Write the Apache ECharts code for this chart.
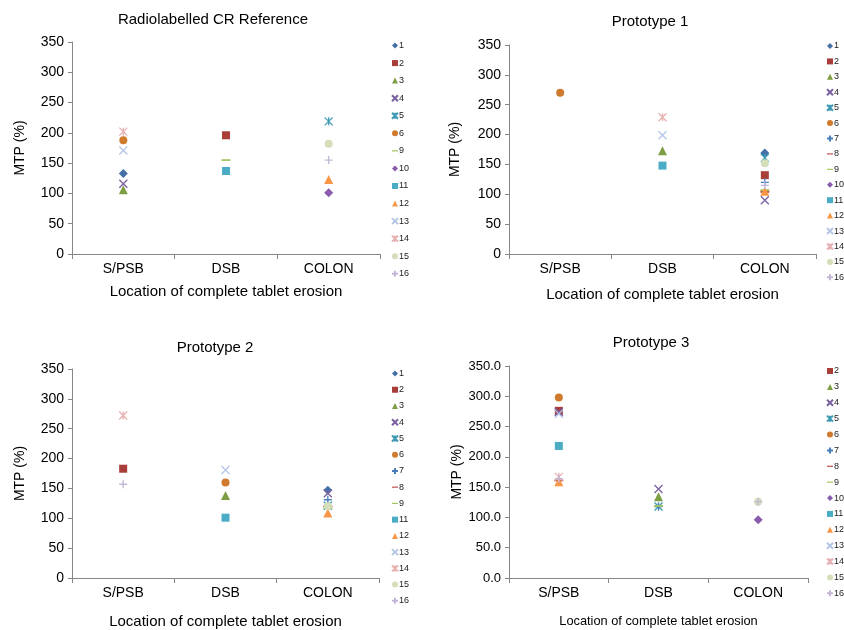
<!DOCTYPE html>
<html>
<head>
<meta charset="utf-8">
<script src="https://cdn.jsdelivr.net/npm/echarts@6/dist/echarts.min.js"></script>
<style>
html,body{margin:0;padding:0;background:#fff;}
#chart{width:844px;height:630px;}
</style>
</head>
<body>
<div id="chart"></div>
<script>
// ---- data ----
const categories = ['S/PSB', 'DSB', 'COLON'];
const yTicks = [0, 50, 100, 150, 200, 250, 300, 350];

const seriesIds = ['1','2','3','4','5','6','7','8','9','10','11','12','13','14','15','16'];

// Radiolabelled CR Reference
const refSeries = ['1','2','3','4','5','6','9','10','11','12','13','14','15','16'];
const refValues = [
  [133, null, null], [null, 196, null], [106, null, null], [116, null, null],
  [null, null, 219], [188, null, null], [null, 155, null], [null, null, 101],
  [null, 137, null], [null, null, 123], [171, null, null], [202, null, null],
  [null, null, 182], [null, null, 155]
];

// Prototype 1
const p1Series = ['1','2','3','4','5','6','7','8','9','10','11','12','13','14','15','16'];
const p1Values = [
  [null, null, 169], [null, null, 132], [null, 173, null], [null, null, 90],
  [null, null, 161], [270, null, null], [null, null, 120], [null, null, 104],
  [null, null, 107], [null, null, null], [null, 148, null], [null, null, 105],
  [null, 199, null], [null, 229, null], [null, null, 152], [null, null, 115]
];

// Prototype 2
const p2Series = ['1','2','3','4','5','6','7','8','9','11','12','13','14','15','16'];
const p2Values = [
  [null, null, 147], [183, null, null], [null, 138, null], [null, null, 142],
  [null, null, 121], [null, 160, null], [null, null, 131], [null, null, 120],
  [null, null, 117], [null, 101, null], [null, null, 109], [null, 181, null],
  [272, null, null], [null, null, 120], [157, null, null]
];

// Prototype 3
const p3Series = ['2','3','4','5','6','7','8','9','10','11','12','13','14','15','16'];
const p3Values = [
  [276, null, null], [null, 134, null], [274, 147, null], [null, 118, null],
  [298, null, null], [null, 118, null], [161, null, null], [null, 119, null],
  [null, null, 96], [218, null, null], [159, null, null], [271, null, null],
  [167, null, null], [null, null, 126], [164, null, 126]
];

// ---- styling ----
const FONT = '"Liberation Sans", Arial, sans-serif';
const colors = {
  '1':'#4470A8','2':'#A83D3A','3':'#7E9E43','4':'#7A60A0','5':'#3F9CB4','6':'#D07A2E',
  '7':'#4A7EBB','8':'#C0504D','9':'#A6C460','10':'#8A5CAD','11':'#4BACC6','12':'#F79646',
  '13':'#B4C6E7','14':'#E6B2B1','15':'#D4DFBA','16':'#C4B6D8'
};
const SYM = {
  diamond: 'diamond', square: 'rect', triangle: 'triangle', circle: 'circle',
  x: 'path://M0,0L10,10M10,0L0,10',
  star: 'path://M0,0L10,10M10,0L0,10M5,0L5,10',
  plus: 'path://M5,0L5,10M0,5L10,5',
  dash: 'path://M0,0M10,10M0,4L10,4L10,6L0,6Z'
};
const symbols = {
  '1':'diamond','2':'square','3':'triangle','4':'x','5':'star','6':'circle','7':'plus','8':'dash',
  '9':'dash','10':'diamond','11':'square','12':'triangle','13':'x','14':'star','15':'circle','16':'plus'
};
const strokeOnly = {x:true, star:true, plus:true};

const panels = [
  {title:'Radiolabelled CR Reference', tx:213, ty:20, names:refSeries, values:refValues,
   grid:{left:72, top:42, width:308, height:212}, yGap:45, xGap:30, xNameSize:15, ySize:14, dec:0,
   legend:{left:391, top:41, gap:8.56}},
  {title:'Prototype 1', tx:650, ty:22, names:p1Series, values:p1Values,
   grid:{left:509, top:45, width:307, height:209}, yGap:47, xGap:33, xNameSize:15, ySize:14, dec:0,
   legend:{left:826, top:41.5, gap:6.42}},
  {title:'Prototype 2', tx:215, ty:348, names:p2Series, values:p2Values,
   grid:{left:72, top:369, width:307, height:209}, yGap:45, xGap:36, xNameSize:15, ySize:14, dec:0,
   legend:{left:391, top:369, gap:7.24}},
  {title:'Prototype 3', tx:651, ty:343, names:p3Series, values:p3Values,
   grid:{left:509, top:366, width:299, height:212}, yGap:45, xGap:37, xNameSize:12.8, ySize:13, dec:1,
   legend:{left:826, top:366.5, gap:6.88}}
];

const option = {
  backgroundColor: '#fff',
  animation: false,
  textStyle: {fontFamily: FONT},
  grid: [], xAxis: [], yAxis: [], legend: [], series: [], graphic: []
};

panels.forEach((p, i) => {
  option.grid.push(Object.assign({containLabel:false}, p.grid));
  option.graphic.push({
    type:'text', x:p.tx, y:p.ty,
    style:{text:p.title, fill:'#000', font:'15px ' + FONT, textAlign:'center', textVerticalAlign:'middle'}
  });
  option.xAxis.push({
    type:'category', gridIndex:i, data:categories, boundaryGap:true,
    name:'Location of complete tablet erosion', nameLocation:'middle', nameGap:p.xGap,
    nameTextStyle:{color:'#000', fontSize:p.xNameSize, fontFamily:FONT},
    axisLine:{lineStyle:{color:'#868686', width:1}},
    axisTick:{show:true, length:5, lineStyle:{color:'#868686'}},
    axisLabel:{color:'#000', fontSize:14, margin:8, fontFamily:FONT},
    splitLine:{show:false}
  });
  option.yAxis.push({
    type:'value', gridIndex:i, min:yTicks[0], max:yTicks[yTicks.length-1], interval:50,
    name:'MTP (%)', nameLocation:'middle', nameGap:p.yGap, nameRotate:90,
    nameTextStyle:{color:'#000', fontSize:14, fontFamily:FONT},
    axisLine:{show:true, lineStyle:{color:'#868686', width:1}},
    axisTick:{show:true, length:4, lineStyle:{color:'#868686'}},
    axisLabel:{color:'#000', fontSize:p.ySize, margin:8, fontFamily:FONT,
      formatter: v => v.toFixed(p.dec)},
    splitLine:{show:false}
  });
  option.legend.push({
    orient:'vertical', left:p.legend.left, top:p.legend.top, padding:0,
    itemWidth:6, itemHeight:6, itemGap:p.legend.gap,
    data:p.names,
    textStyle:{fontSize:9, lineHeight:9, color:'#222', fontFamily:FONT, padding:[0,0,0,-4]},
    selectedMode:false
  });
  p.names.forEach((name, k) => {
    const sk = symbols[name];
    const c = colors[name];
    const stroke = !!strokeOnly[sk];
    let size = 8;
    if (sk === 'dash') size = 9;
    if (sk === 'diamond' || sk === 'triangle') size = 9;
    if (stroke) size = 8;
    option.series.push({
      type:'scatter', name:name, xAxisIndex:i, yAxisIndex:i,
      data:p.values[k],
      symbol:SYM[sk], symbolSize:size,
      itemStyle:{color:c, opacity:1, borderColor:c, borderWidth: stroke ? 1.3 : 0},
      emphasis:{disabled:true}
    });
  });
});

const chart = echarts.init(document.getElementById('chart'), null, {renderer:'canvas'});
chart.setOption(option);
</script>
</body>
</html>
